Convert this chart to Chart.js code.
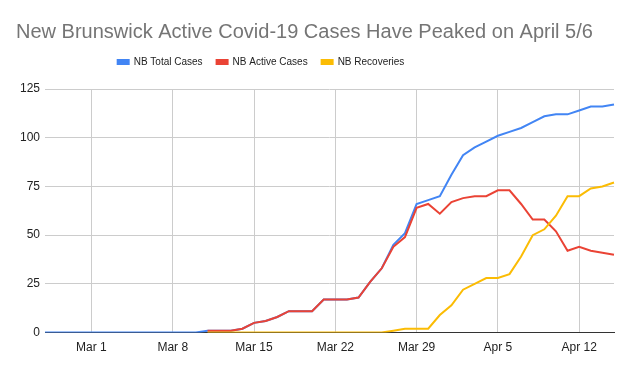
<!DOCTYPE html>
<html>
<head>
<meta charset="utf-8">
<script src="https://cdn.jsdelivr.net/npm/chart.js@4"></script>
<style>
  html, body { margin: 0; padding: 0; background: #fff; }
  #wrap { width: 633px; height: 371px; }
</style>
</head>
<body>
<div id="wrap"><canvas id="chart"></canvas></div>
<script>
// Daily dates, Feb 26 - Apr 15 2020
const dates = [
  'Feb 26', 'Feb 27', 'Feb 28', 'Feb 29',
  'Mar 1', 'Mar 2', 'Mar 3', 'Mar 4', 'Mar 5', 'Mar 6', 'Mar 7', 'Mar 8', 'Mar 9', 'Mar 10',
  'Mar 11', 'Mar 12', 'Mar 13', 'Mar 14', 'Mar 15', 'Mar 16', 'Mar 17', 'Mar 18', 'Mar 19', 'Mar 20',
  'Mar 21', 'Mar 22', 'Mar 23', 'Mar 24', 'Mar 25', 'Mar 26', 'Mar 27', 'Mar 28', 'Mar 29', 'Mar 30', 'Mar 31',
  'Apr 1', 'Apr 2', 'Apr 3', 'Apr 4', 'Apr 5', 'Apr 6', 'Apr 7', 'Apr 8', 'Apr 9', 'Apr 10',
  'Apr 11', 'Apr 12', 'Apr 13', 'Apr 14', 'Apr 15'
];
const shownDates = ['Mar 1', 'Mar 8', 'Mar 15', 'Mar 22', 'Mar 29', 'Apr 5', 'Apr 12'];
const yTicks = [0, 25, 50, 75, 100, 125];

const totalCases = [
  0, 0, 0, 0,
  0, 0, 0, 0, 0, 0, 0, 0, 0, 0,
  1, 1, 1, 2, 5, 6, 8, 11, 11, 11,
  17, 17, 17, 18, 26, 33, 45, 51, 66, 68, 70,
  81, 91, 95, 98, 101, 103, 105, 108, 111, 112,
  112, 114, 116, 116, 117
];
const activeCases = [
  null, null, null, null,
  null, null, null, null, null, null, null, null, null, null,
  1, 1, 1, 2, 5, 6, 8, 11, 11, 11,
  17, 17, 17, 18, 26, 33, 44, 49, 64, 66, 61,
  67, 69, 70, 70, 73, 73, 66, 58, 58, 52,
  42, 44, 42, 41, 40
];
const recoveries = [
  null, null, null, null,
  null, null, null, null, null, null, null, null, null, null,
  0, 0, 0, 0, 0, 0, 0, 0, 0, 0,
  0, 0, 0, 0, 0, 0, 1, 2, 2, 2, 9,
  14, 22, 25, 28, 28, 30, 39, 50, 53, 60,
  70, 70, 74, 75, 77
];

const FONT = 'Arial, "Liberation Sans", sans-serif';

function series(label, data, color, order) {
  return {
    label,
    data,
    order,
    borderColor: color,
    backgroundColor: color,
    borderWidth: 2,
    pointRadius: 0,
    tension: 0,
    fill: false,
  };
}

// push the legend left/up and leave a gap under it, like the sheets chart
const legendTweak = {
  id: 'legendTweak',
  beforeInit(chart) {
    const fit = chart.legend.fit;
    chart.legend.fit = function () {
      fit.call(this);
      this.height += 8;
    };
  },
  afterLayout(chart) {
    chart.legend.left -= 54;
    chart.legend.right -= 54;
    chart.legend.top -= 4;
    chart.legend.bottom -= 4;
  }
};

new Chart(document.getElementById('chart'), {
  type: 'line',
  data: {
    labels: dates,
    datasets: [
      series('NB Total Cases', totalCases, '#4285f4', 3),
      series('NB Active Cases', activeCases, '#ea4335', 2),
      series('NB Recoveries', recoveries, '#fbbc04', 1),
    ]
  },
  options: {
    responsive: true,
    maintainAspectRatio: false,
    animation: false,
    layout: { padding: { left: 16, right: 19, top: 0, bottom: 8 } },
    plugins: {
      title: {
        display: true,
        text: 'New Brunswick Active Covid-19 Cases Have Peaked on April 5/6',
        align: 'start',
        color: '#757575',
        font: { family: FONT, size: 20, weight: 'normal' },
        padding: { top: 20, bottom: 3 },
      },
      legend: {
        position: 'top',
        labels: {
          color: '#222',
          font: { family: FONT, size: 10 },
          boxWidth: 11,
          boxHeight: 4,
          padding: 14,
          sort: (a, b) => a.datasetIndex - b.datasetIndex,
        }
      },
      tooltip: { enabled: false },
    },
    scales: {
      x: {
        offset: false,
        grid: {
          color: ctx => shownDates.includes(dates[ctx.index]) ? '#cccccc' : 'rgba(0,0,0,0)',
          drawTicks: false,
        },
        border: { display: true, color: '#333333', width: 1 },
        ticks: {
          autoSkip: false,
          maxRotation: 0,
          color: '#222',
          font: { family: FONT, size: 12 },
          padding: 8,
          callback: (v, i) => shownDates.includes(dates[i]) ? dates[i] : '',
        }
      },
      y: {
        min: 0,
        max: 125,
        afterBuildTicks: scale => { scale.ticks = yTicks.map(v => ({ value: v })); },
        afterFit: scale => { scale.width = 29; },
        grid: {
          color: '#cccccc',
          drawTicks: false,
        },
        border: { display: false },
        ticks: {
          color: '#222',
          font: { family: FONT, size: 12 },
          padding: 5,
        }
      }
    }
  },
  plugins: [legendTweak]
});
</script>
</body>
</html>
